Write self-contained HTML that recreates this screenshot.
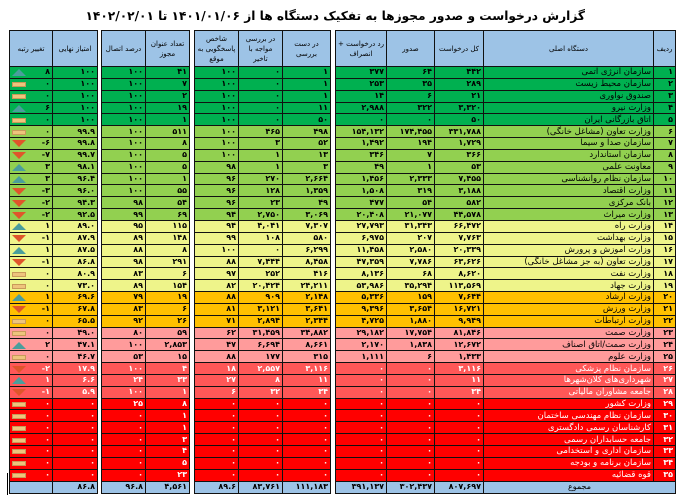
<!DOCTYPE html>
<html><head><meta charset="utf-8"><style>
body{margin:0;width:681px;height:502px;background:#fff;position:relative;overflow:hidden;font-family:"DejaVu Sans","Liberation Sans",sans-serif}
.t{position:absolute;right:96px;top:9px;direction:rtl;font-weight:bold;font-size:12.2px;white-space:nowrap;color:#000}
table{position:absolute;left:9px;top:30px;border-collapse:collapse;table-layout:fixed;width:666px}
td{border:1px solid #111;padding:0 2px;font-size:8px;font-weight:bold;text-align:right;white-space:nowrap;overflow:hidden;line-height:10px;height:10.85px}
td.x{border:none!important;background:#fff!important}
tr.h td{background:#9dc3e6;text-align:center;font-size:7px;font-weight:normal;height:35px;white-space:normal;line-height:10px}
td.n{direction:rtl;text-align:right;font-size:8.5px;font-weight:normal}
.g1 td{background:#00b050}.g2 td{background:#92d050}.y td{background:#eef48a}.o td{background:#ffc000}.p td{background:#ff9b9b}.r1 td{background:#ff5757;color:#fff}.r2 td{background:#ff0000;color:#fff}
.s td{background:#9dc3e6;height:11.5px}
i{float:left;margin-top:2px;width:0;height:0}
i.u{border-left:7px solid transparent;border-right:7px solid transparent;border-bottom:7px solid #4a9e9c}
i.d{border-left:7px solid transparent;border-right:7px solid transparent;border-top:7px solid #e0552b;margin-top:2px}
i.z{width:12px;height:3px;background:#eec47c;border:1px solid #c99a5a;margin-top:3px}
</style></head><body>
<div class="t">گزارش درخواست و صدور مجوزها به تفکیک دستگاه ها از ۱۴۰۱/۰۱/۰۶ تا ۱۴۰۲/۰۲/۰۱</div>
<div style="position:absolute;left:7px;top:473px;width:1px;height:22px;background:#000"></div>
<table>
<colgroup><col style="width:43px"><col style="width:45px"><col style="width:4px"><col style="width:44px"><col style="width:44px"><col style="width:5px"><col style="width:44px"><col style="width:44px"><col style="width:48px"><col style="width:5px"><col style="width:51px"><col style="width:48px"><col style="width:49px"><col style="width:170px"><col style="width:22px"></colgroup>
<tr class="h"><td>تغییر رتبه</td><td>امتیاز نهایی</td><td class="x"></td><td>درصد اتصال</td><td>تعداد عنوان مجوز</td><td class="x"></td><td>شاخص پاسخگویی به موقع</td><td>در بررسی مواجه با تاخیر</td><td>در دست بررسی</td><td class="x"></td><td>رد درخواست + انصراف</td><td>صدور</td><td>کل درخواست</td><td>دستگاه اصلی</td><td>ردیف</td></tr>
<tr class="g1"><td><i class="u"></i>۸</td><td>۱۰۰</td><td class="x"></td><td>۱۰۰</td><td>۴۱</td><td class="x"></td><td>۱۰۰</td><td>۰</td><td>۱</td><td class="x"></td><td>۳۷۷</td><td>۶۴</td><td>۴۴۲</td><td class="n">سازمان انرژی اتمی</td><td>۱</td></tr>
<tr class="g1"><td><i class="z"></i>۰</td><td>۱۰۰</td><td class="x"></td><td>۱۰۰</td><td>۷</td><td class="x"></td><td>۱۰۰</td><td>۰</td><td>۱</td><td class="x"></td><td>۲۵۳</td><td>۳۵</td><td>۲۸۹</td><td class="n">سازمان محیط زیست</td><td>۲</td></tr>
<tr class="g1"><td><i class="z"></i>۰</td><td>۱۰۰</td><td class="x"></td><td>۱۰۰</td><td>۲</td><td class="x"></td><td>۱۰۰</td><td>۰</td><td>۱</td><td class="x"></td><td>۱۴</td><td>۶</td><td>۲۱</td><td class="n">صندوق نوآوری</td><td>۳</td></tr>
<tr class="g1"><td><i class="u"></i>۶</td><td>۱۰۰</td><td class="x"></td><td>۱۰۰</td><td>۱۹</td><td class="x"></td><td>۱۰۰</td><td>۰</td><td>۱۱</td><td class="x"></td><td>۲,۹۸۸</td><td>۳۲۲</td><td>۳,۳۲۰</td><td class="n">وزارت نیرو</td><td>۴</td></tr>
<tr class="g1"><td><i class="z"></i>۰</td><td>۱۰۰</td><td class="x"></td><td>۱۰۰</td><td>۱</td><td class="x"></td><td>۱۰۰</td><td>۰</td><td>۵۰</td><td class="x"></td><td>۰</td><td>۰</td><td>۵۰</td><td class="n">اتاق بازرگانی ایران</td><td>۵</td></tr>
<tr class="g2"><td><i class="z"></i>۰</td><td>۹۹.۹</td><td class="x"></td><td>۱۰۰</td><td>۵۱۱</td><td class="x"></td><td>۱۰۰</td><td>۴۶۵</td><td>۴۹۸</td><td class="x"></td><td>۱۵۴,۱۳۲</td><td>۱۷۴,۴۵۵</td><td>۳۳۱,۷۸۸</td><td class="n">وزارت تعاون (مشاغل خانگی)</td><td>۶</td></tr>
<tr class="g2"><td><i class="d"></i>-۶</td><td>۹۹.۸</td><td class="x"></td><td>۱۰۰</td><td>۸</td><td class="x"></td><td>۱۰۰</td><td>۳</td><td>۵۲</td><td class="x"></td><td>۱,۴۹۲</td><td>۱۹۴</td><td>۱,۷۲۹</td><td class="n">سازمان صدا و سیما</td><td>۷</td></tr>
<tr class="g2"><td><i class="d"></i>-۷</td><td>۹۹.۷</td><td class="x"></td><td>۱۰۰</td><td>۵</td><td class="x"></td><td>۱۰۰</td><td>۱</td><td>۱۳</td><td class="x"></td><td>۳۴۶</td><td>۷</td><td>۳۶۶</td><td class="n">سازمان استاندارد</td><td>۸</td></tr>
<tr class="g2"><td><i class="u"></i>۳</td><td>۹۸.۱</td><td class="x"></td><td>۱۰۰</td><td>۵</td><td class="x"></td><td>۹۸</td><td>۱</td><td>۳</td><td class="x"></td><td>۴۹</td><td>۱</td><td>۵۳</td><td class="n">معاونت علمی</td><td>۹</td></tr>
<tr class="g2"><td><i class="u"></i>۳</td><td>۹۶.۴</td><td class="x"></td><td>۱۰۰</td><td>۱</td><td class="x"></td><td>۹۶</td><td>۲۷۰</td><td>۲,۶۶۴</td><td class="x"></td><td>۱,۴۵۶</td><td>۲,۳۳۳</td><td>۷,۴۵۵</td><td class="n">سازمان نظام روانشناسی</td><td>۱۰</td></tr>
<tr class="g2"><td><i class="d"></i>-۳</td><td>۹۶.۰</td><td class="x"></td><td>۱۰۰</td><td>۵۵</td><td class="x"></td><td>۹۶</td><td>۱۲۸</td><td>۱,۳۵۹</td><td class="x"></td><td>۱,۵۰۸</td><td>۳۱۹</td><td>۳,۱۸۸</td><td class="n">وزارت اقتصاد</td><td>۱۱</td></tr>
<tr class="g2"><td><i class="d"></i>-۲</td><td>۹۴.۳</td><td class="x"></td><td>۹۸</td><td>۵۴</td><td class="x"></td><td>۹۶</td><td>۲۳</td><td>۴۹</td><td class="x"></td><td>۴۷۷</td><td>۵۴</td><td>۵۸۲</td><td class="n">بانک مرکزی</td><td>۱۲</td></tr>
<tr class="g2"><td><i class="d"></i>-۲</td><td>۹۲.۵</td><td class="x"></td><td>۹۹</td><td>۶۹</td><td class="x"></td><td>۹۴</td><td>۲,۷۵۰</td><td>۳,۰۶۹</td><td class="x"></td><td>۲۰,۴۰۸</td><td>۲۱,۰۷۷</td><td>۴۴,۵۷۸</td><td class="n">وزارت میراث</td><td>۱۳</td></tr>
<tr class="y"><td><i class="u"></i>۱</td><td>۸۹.۰</td><td class="x"></td><td>۹۵</td><td>۱۱۵</td><td class="x"></td><td>۹۴</td><td>۴,۰۴۱</td><td>۷,۳۰۷</td><td class="x"></td><td>۲۷,۷۹۳</td><td>۳۱,۳۴۳</td><td>۶۶,۴۷۲</td><td class="n">وزارت راه</td><td>۱۴</td></tr>
<tr class="y"><td><i class="d"></i>-۱</td><td>۸۷.۹</td><td class="x"></td><td>۸۹</td><td>۱۴۸</td><td class="x"></td><td>۹۹</td><td>۱۰۸</td><td>۵۸۰</td><td class="x"></td><td>۶,۹۷۵</td><td>۲۰۷</td><td>۷,۷۶۳</td><td class="n">وزارت بهداشت</td><td>۱۵</td></tr>
<tr class="y"><td><i class="u"></i>۱</td><td>۸۷.۵</td><td class="x"></td><td>۸۸</td><td>۸</td><td class="x"></td><td>۱۰۰</td><td>۰</td><td>۶,۲۹۹</td><td class="x"></td><td>۱۱,۴۵۸</td><td>۲,۵۸۰</td><td>۲۰,۳۳۹</td><td class="n">وزارت آموزش و پرورش</td><td>۱۶</td></tr>
<tr class="y"><td><i class="d"></i>-۱</td><td>۸۶.۸</td><td class="x"></td><td>۹۸</td><td>۲۹۱</td><td class="x"></td><td>۸۸</td><td>۷,۴۴۴</td><td>۸,۴۵۸</td><td class="x"></td><td>۴۷,۳۵۹</td><td>۷,۷۸۶</td><td>۶۳,۶۲۶</td><td class="n">وزارت تعاون (به جز مشاغل خانگی)</td><td>۱۷</td></tr>
<tr class="y"><td><i class="z"></i>۰</td><td>۸۰.۹</td><td class="x"></td><td>۸۳</td><td>۶</td><td class="x"></td><td>۹۷</td><td>۲۵۲</td><td>۴۱۶</td><td class="x"></td><td>۸,۱۳۶</td><td>۶۸</td><td>۸,۶۲۰</td><td class="n">وزارت نفت</td><td>۱۸</td></tr>
<tr class="y"><td><i class="z"></i>۰</td><td>۷۳.۰</td><td class="x"></td><td>۸۹</td><td>۱۵۴</td><td class="x"></td><td>۸۲</td><td>۲۰,۴۲۴</td><td>۲۴,۲۱۱</td><td class="x"></td><td>۵۳,۹۸۶</td><td>۳۵,۲۹۴</td><td>۱۱۳,۵۶۹</td><td class="n">وزارت جهاد</td><td>۱۹</td></tr>
<tr class="o"><td><i class="u"></i>۱</td><td>۶۹.۶</td><td class="x"></td><td>۷۹</td><td>۱۹</td><td class="x"></td><td>۸۸</td><td>۹۰۹</td><td>۲,۱۴۸</td><td class="x"></td><td>۵,۳۳۶</td><td>۱۵۹</td><td>۷,۶۴۴</td><td class="n">وزارت ارشاد</td><td>۲۰</td></tr>
<tr class="o"><td><i class="d"></i>-۱</td><td>۶۷.۸</td><td class="x"></td><td>۸۳</td><td>۶</td><td class="x"></td><td>۸۱</td><td>۳,۱۲۱</td><td>۳,۶۴۱</td><td class="x"></td><td>۹,۳۹۶</td><td>۳,۶۵۴</td><td>۱۶,۷۲۱</td><td class="n">وزارت ورزش</td><td>۲۱</td></tr>
<tr class="o"><td><i class="z"></i>۰</td><td>۶۵.۵</td><td class="x"></td><td>۹۲</td><td>۲۶</td><td class="x"></td><td>۷۱</td><td>۲,۸۹۴</td><td>۲,۳۴۴</td><td class="x"></td><td>۴,۷۲۵</td><td>۱,۸۸۰</td><td>۹,۹۴۹</td><td class="n">وزارت ارتباطات</td><td>۲۲</td></tr>
<tr class="p"><td><i class="z"></i>۰</td><td>۴۹.۰</td><td class="x"></td><td>۸۰</td><td>۵۹</td><td class="x"></td><td>۶۲</td><td>۳۱,۴۵۹</td><td>۳۴,۸۸۲</td><td class="x"></td><td>۲۹,۱۸۲</td><td>۱۷,۷۵۴</td><td>۸۱,۸۴۶</td><td class="n">وزارت صمت</td><td>۲۳</td></tr>
<tr class="p"><td><i class="u"></i>۲</td><td>۴۷.۱</td><td class="x"></td><td>۱۰۰</td><td>۲,۸۵۳</td><td class="x"></td><td>۴۷</td><td>۶,۶۹۴</td><td>۸,۶۶۱</td><td class="x"></td><td>۲,۱۷۰</td><td>۱,۸۳۸</td><td>۱۲,۶۷۲</td><td class="n">وزارت صمت/اتاق اصناف</td><td>۲۴</td></tr>
<tr class="p"><td><i class="z"></i>۰</td><td>۴۶.۷</td><td class="x"></td><td>۵۳</td><td>۱۵</td><td class="x"></td><td>۸۸</td><td>۱۷۷</td><td>۳۱۵</td><td class="x"></td><td>۱,۱۱۱</td><td>۶</td><td>۱,۴۳۳</td><td class="n">وزارت علوم</td><td>۲۵</td></tr>
<tr class="r1"><td><i class="d"></i>-۲</td><td>۱۷.۹</td><td class="x"></td><td>۱۰۰</td><td>۴</td><td class="x"></td><td>۱۸</td><td>۲,۵۵۷</td><td>۳,۱۱۶</td><td class="x"></td><td>۰</td><td>۰</td><td>۳,۱۱۶</td><td class="n">سازمان نظام پزشکی</td><td>۲۶</td></tr>
<tr class="r1"><td><i class="u"></i>۱</td><td>۶.۶</td><td class="x"></td><td>۲۴</td><td>۳۳</td><td class="x"></td><td>۲۷</td><td>۸</td><td>۱۱</td><td class="x"></td><td>۰</td><td>۰</td><td>۱۱</td><td class="n">شهرداری‌های کلان‌شهرها</td><td>۲۷</td></tr>
<tr class="r1"><td><i class="d"></i>-۱</td><td>۵.۹</td><td class="x"></td><td>۱۰۰</td><td>۱</td><td class="x"></td><td>۶</td><td>۳۲</td><td>۳۴</td><td class="x"></td><td>۰</td><td>۰</td><td>۳۴</td><td class="n">جامعه مشاوران مالیاتی</td><td>۲۸</td></tr>
<tr class="r2"><td><i class="z"></i>۰</td><td>۰</td><td class="x"></td><td>۲۵</td><td>۸</td><td class="x"></td><td>۰</td><td>۰</td><td>۰</td><td class="x"></td><td>۰</td><td>۰</td><td>۰</td><td class="n">وزارت کشور</td><td>۲۹</td></tr>
<tr class="r2"><td><i class="z"></i>۰</td><td>۰</td><td class="x"></td><td>۰</td><td>۱</td><td class="x"></td><td>۰</td><td>۰</td><td>۰</td><td class="x"></td><td>۰</td><td>۰</td><td>۰</td><td class="n">سازمان نظام مهندسی ساختمان</td><td>۳۰</td></tr>
<tr class="r2"><td><i class="z"></i>۰</td><td>۰</td><td class="x"></td><td>۰</td><td>۱</td><td class="x"></td><td>۰</td><td>۰</td><td>۰</td><td class="x"></td><td>۰</td><td>۰</td><td>۰</td><td class="n">کارشناسان رسمی دادگستری</td><td>۳۱</td></tr>
<tr class="r2"><td><i class="z"></i>۰</td><td>۰</td><td class="x"></td><td>۰</td><td>۳</td><td class="x"></td><td>۰</td><td>۰</td><td>۰</td><td class="x"></td><td>۰</td><td>۰</td><td>۰</td><td class="n">جامعه حسابداران رسمی</td><td>۳۲</td></tr>
<tr class="r2"><td><i class="z"></i>۰</td><td>۰</td><td class="x"></td><td>۰</td><td>۴</td><td class="x"></td><td>۰</td><td>۰</td><td>۰</td><td class="x"></td><td>۰</td><td>۰</td><td>۰</td><td class="n">سازمان اداری و استخدامی</td><td>۳۳</td></tr>
<tr class="r2"><td><i class="z"></i>۰</td><td>۰</td><td class="x"></td><td>۰</td><td>۵</td><td class="x"></td><td>۰</td><td>۰</td><td>۰</td><td class="x"></td><td>۰</td><td>۰</td><td>۰</td><td class="n">سازمان برنامه و بودجه</td><td>۳۴</td></tr>
<tr class="r2"><td><i class="z"></i>۰</td><td>۰</td><td class="x"></td><td>۰</td><td>۲۳</td><td class="x"></td><td>۰</td><td>۰</td><td>۰</td><td class="x"></td><td>۰</td><td>۰</td><td>۰</td><td class="n">قوه قضائیه</td><td>۳۵</td></tr>
<tr class="s"><td></td><td>۸۶.۸</td><td class="x"></td><td>۹۶.۸</td><td>۴,۵۶۱</td><td class="x"></td><td>۸۹.۶</td><td>۸۳,۷۶۱</td><td>۱۱۱,۱۸۳</td><td class="x"></td><td>۳۹۱,۱۳۷</td><td>۳۰۲,۴۳۷</td><td>۸۰۷,۶۹۷</td><td colspan="2" style="text-align:center;font-weight:normal">مجموع</td></tr>
</table>
</body></html>
